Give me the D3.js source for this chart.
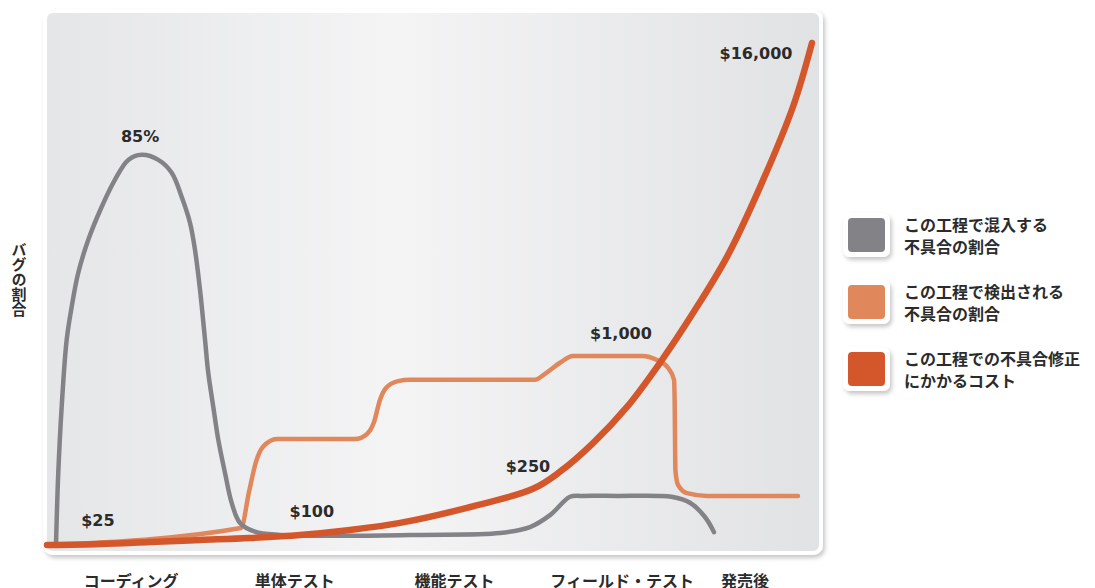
<!DOCTYPE html>
<html lang="ja">
<head>
    <meta charset="UTF-8">
    <title>工程ごとの不具合の割合と修正コスト</title>
    <script src="https://d3js.org/d3.v7.min.js"></script>
    <style>
        body { margin: 0; background: #fff; }
        text { font-family: "Noto Sans CJK JP", "Noto Sans", sans-serif; font-weight: bold; fill: #2b2b2b; }
        .num { font-family: "DejaVu Sans", Verdana, sans-serif; font-size: 16px; }
    </style>
</head>
<body>
<div id="chart"></div>
<script>
    // stages along the bottom (x position in % of timeline)
    const stages = ["コーディング", "単体テスト", "機能テスト", "フィールド・テスト", "発売後"];
    const stageX = [10.9, 32.1, 52.8, 74.5, 90.4];

    // percent of bugs introduced in each phase  [timeline %, bug %]
    const introduced = [
        [1.17, 0.4], [1.46, 15.7], [1.9, 30.1], [2.55, 44.7], [3.2, 51.9], [4.05, 59.3],
        [5.35, 66.5], [7.09, 73.7], [8.81, 79.6], [10.53, 83.9], [12.27, 85.0], [14.42, 83.9],
        [16.15, 81.1], [17.45, 75.8], [18.52, 70.2], [19.17, 64.3], [19.82, 55.6], [20.47, 44.7],
        [20.89, 37.5], [21.54, 30.1], [22.19, 22.9], [23.06, 15.7], [23.92, 9.2], [25.0, 4.8],
        [26.94, 2.9], [30.18, 2.2], [39.25, 2.0], [48.32, 2.2], [58.68, 2.6], [62.56, 3.9],
        [65.16, 6.5], [67.75, 10.5], [69.3, 10.7], [74.0, 10.7], [79.2, 10.7], [80.9, 10.5],
        [83.29, 9.2], [85.23, 6.1], [86.4, 2.8]
    ];

    // percent of bugs found in each phase
    const detected = [
        [0.13, 0], [25.13, 3.7], [26.17, 11.6], [27.07, 18.1], [27.98, 21.4], [29.79, 23.1],
        [39.9, 23.1], [41.45, 24.2], [42.36, 26.8], [43.13, 31.6], [43.91, 34.2], [45.47, 35.7],
        [47.02, 36.0], [63.21, 36.0], [64.51, 37.3], [66.45, 39.7], [68.13, 41.2], [77.07, 41.2],
        [79.02, 40.3], [80.44, 38.6], [81.22, 36.0], [81.3, 31.6], [81.4, 16.3], [81.74, 13.1],
        [82.9, 11.3], [85.49, 10.7], [97.28, 10.7]
    ];

    // relative cost to fix a bug (0..100 of the cost axis)
    const cost = [
        [0, 0], [6.87, 0.2], [13.34, 0.6], [19.82, 1.0], [26.3, 1.4], [32.77, 2.0], [39.25, 3.0],
        [45.73, 4.4], [54.4, 7.4], [62.95, 11.2], [66.45, 14.6], [70.73, 20.3], [75.13, 27.5],
        [79.4, 36.3], [83.68, 46.2], [88.08, 57.4], [92.36, 71.3], [96.63, 87.3], [99.09, 100]
    ];

    // value labels [text, timeline %, bug %]
    const labels = [
        ["85%", 12.05, 88.9], ["$25", 6.6, 5.4], ["$100", 34.3, 7.2],
        ["$250", 62.3, 17.2], ["$1,000", 74.35, 46.0], ["$16,000", 91.84, 107.0]
    ];

    const legendNames = [
        ["この工程で混入する", "不具合の割合"],
        ["この工程で検出される", "不具合の割合"],
        ["この工程での不具合修正", "にかかるコスト"]
    ];
    const colors = ["#838387", "#e0875b", "#d4572b"];

    const width = 1095, height = 588;
    const panel = {x0: 47, y0: 13, x1: 819, y1: 551};

    const svg = d3.select("#chart").append("svg")
        .attr("width", width)
        .attr("height", height);

    const defs = svg.append("defs");
    const grad = defs.append("linearGradient").attr("id", "bg")
        .attr("x1", "0%").attr("x2", "100%").attr("y1", "0%").attr("y2", "0%");
    grad.append("stop").attr("offset", "0%").attr("stop-color", "#e5e6e8");
    grad.append("stop").attr("offset", "45%").attr("stop-color", "#f4f4f5");
    grad.append("stop").attr("offset", "100%").attr("stop-color", "#e1e2e4");

    const shadow = defs.append("filter").attr("id", "shadow")
        .attr("x", "-10%").attr("y", "-10%").attr("width", "130%").attr("height", "130%");
    shadow.append("feDropShadow").attr("dx", 2).attr("dy", 3)
        .attr("stdDeviation", 2).attr("flood-color", "#000").attr("flood-opacity", 0.22);

    // panel
    svg.append("rect")
        .attr("x", panel.x0 - 4).attr("y", panel.y0 - 4)
        .attr("width", panel.x1 - panel.x0 + 8).attr("height", panel.y1 - panel.y0 + 8)
        .attr("rx", 10).attr("fill", "#fff").attr("filter", "url(#shadow)");
    svg.append("rect")
        .attr("x", panel.x0).attr("y", panel.y0)
        .attr("width", panel.x1 - panel.x0).attr("height", panel.y1 - panel.y0)
        .attr("rx", 6).attr("fill", "url(#bg)");

    // scales
    const x = d3.scaleLinear().domain([0, 100]).range([panel.x0, panel.x1]);
    const y = d3.scaleLinear().domain([0, 100]).range([545, 86]);
    const yCost = d3.scaleLinear().domain([0, 100]).range([545, 43]);

    const stepLine = d3.line().x(d => x(d[0])).y(d => y(d[1])).curve(d3.curveMonotoneX);
    const smoothLine = d3.line().x(d => x(d[0])).y(d => y(d[1])).curve(d3.curveCatmullRom.alpha(0.5));
    const costLine = d3.line().x(d => x(d[0])).y(d => yCost(d[1])).curve(d3.curveCatmullRom.alpha(0.5));

    svg.append("path").datum(detected)
        .attr("d", stepLine).attr("fill", "none")
        .attr("stroke", colors[1]).attr("stroke-width", 4.5)
        .attr("stroke-linecap", "round").attr("stroke-linejoin", "round");

    svg.append("path").datum(introduced)
        .attr("d", smoothLine).attr("fill", "none")
        .attr("stroke", colors[0]).attr("stroke-width", 4.5)
        .attr("stroke-linecap", "round").attr("stroke-linejoin", "round");

    svg.append("path").datum(cost)
        .attr("d", costLine).attr("fill", "none")
        .attr("stroke", colors[2]).attr("stroke-width", 6.5)
        .attr("stroke-linecap", "round").attr("stroke-linejoin", "round");

    // value labels
    svg.selectAll(".num").data(labels).enter().append("text")
        .attr("class", "num")
        .attr("x", d => x(d[1]))
        .attr("y", d => y(d[2]))
        .attr("text-anchor", "middle")
        .attr("dominant-baseline", "central")
        .text(d => d[0]);

    // stage labels
    svg.selectAll(".stage").data(stages).enter().append("text")
        .attr("class", "stage")
        .attr("x", (d, i) => x(stageX[i]))
        .attr("y", 587)
        .attr("text-anchor", "middle")
        .style("font-size", "16px")
        .text(d => d);

    // y axis title, vertical
    svg.append("text")
        .attr("x", 19).attr("y", 242)
        .style("font-size", "15px")
        .style("writing-mode", "vertical-rl")
        .style("text-orientation", "upright")
        .text("バグの割合");

    // legend
    const legend = svg.selectAll(".legend").data(legendNames).enter().append("g")
        .attr("class", "legend")
        .attr("transform", (d, i) => `translate(843, ${213 + i * 67})`);
    legend.append("rect")
        .attr("width", 47).attr("height", 44).attr("rx", 7)
        .attr("fill", "#fff").attr("filter", "url(#shadow)");
    legend.append("rect")
        .attr("x", 5).attr("y", 5).attr("width", 37).attr("height", 34).attr("rx", 4)
        .attr("fill", (d, i) => colors[i]);
    legend.append("text")
        .attr("x", 61).attr("y", 11)
        .attr("dominant-baseline", "central")
        .style("font-size", "16px")
        .text(d => d[0]);
    legend.append("text")
        .attr("x", 61).attr("y", 33)
        .attr("dominant-baseline", "central")
        .style("font-size", "16px")
        .text(d => d[1]);
</script>
</body>
</html>
